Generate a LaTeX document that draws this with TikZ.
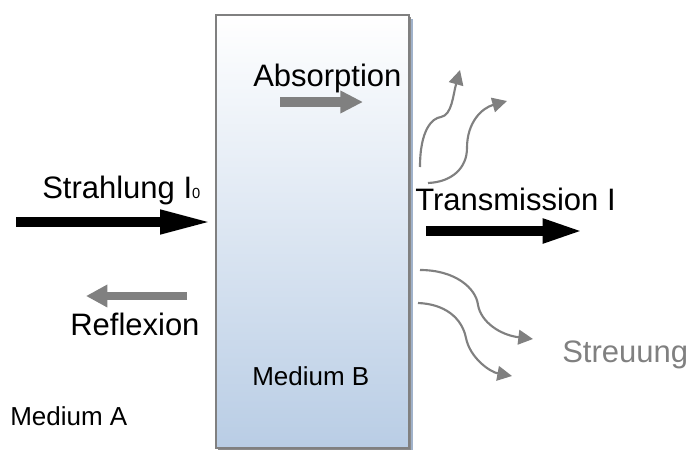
\documentclass[tikz,border=0pt]{standalone}
\usepackage{fontspec}
\setmainfont{Liberation Sans}
\usetikzlibrary{arrows.meta}
\definecolor{boxblue}{RGB}{185,205,229}
\definecolor{edgegray}{RGB}{128,128,128}
\definecolor{shadowgray}{RGB}{138,138,138}
\definecolor{shadowblue}{RGB}{160,178,202}
\definecolor{arrowgray}{RGB}{128,128,128}
\tikzset{
  biglabel/.style={anchor=base west, inner sep=0pt, font=\fontsize{23.25pt}{26pt}\selectfont},
  smalllabel/.style={anchor=base west, inner sep=0pt, font=\fontsize{19.5pt}{22pt}\selectfont},
  blackarrow/.style={draw=black, line width=7.5pt, line cap=butt},
  grayarrow/.style={draw=arrowgray, line width=7pt, line cap=butt},
  scatter/.style={draw=arrowgray, line width=1.6pt,
    -{Triangle[length=11pt, width=11pt]}},
}
\begin{document}
\begin{tikzpicture}[x=0.75pt, y=-0.75pt]
  \useasboundingbox (0,0) rectangle (690,450);

  % medium B: shadow, gradient block, border
  \fill[shadowblue] (220,19) rectangle (413,452);
  \fill[shadowgray] (218,17) rectangle (411,450);
  \node[draw=edgegray, line width=1.5pt, top color=white, bottom color=boxblue,
        minimum width=144.75pt, minimum height=324.75pt, inner sep=0pt]
        (medium) at (312.5,231.5) {};

  % labels
  \node[biglabel] (absorb) at (253,86) {Absorption};
  \node[biglabel] (strahl) at (42,198) {Strahlung I{\fontsize{11pt}{11pt}\selectfont 0}};
  \node[biglabel] (trans) at (415,210) {Transmission I};
  \node[biglabel] (refl) at (70,335) {Reflexion};
  \node[biglabel, text=arrowgray] (streu) at (562,362) {Streuung};
  \node[smalllabel] (medb) at (252,385) {Medium B};
  \node[smalllabel] (meda) at (10,425) {Medium A};

  % arrow end points
  \coordinate (inS) at (16,222);
  \coordinate (inE) at (213,222);
  \coordinate (trS) at (426,231);
  \coordinate (trE) at (584,231);
  \coordinate (abS) at (280,102);
  \coordinate (abE) at (363,102);
  \coordinate (reS) at (187,296);
  \coordinate (reE) at (86,296);

  % straight block arrows
  \draw[blackarrow, -{Triangle[length=39.75pt, width=16.5pt]}] (inS) -- (inE);
  \draw[blackarrow, -{Triangle[length=31pt, width=16.5pt]}] (trS) -- (trE);
  \draw[grayarrow, line width=8pt, -{Triangle[length=17pt, width=16pt]}] (abS) -- (abE);
  \draw[grayarrow, line width=6pt, -{Triangle[length=16pt, width=16pt]}] (reS) -- (reE);

  % scattered rays
  \coordinate (s1a) at (420,167);
  \coordinate (s1m) at (441,117);
  \coordinate (s1b) at (460,70);
  \coordinate (s2a) at (428,183);
  \coordinate (s2m) at (467,148);
  \coordinate (s2b) at (507,101);
  \coordinate (s3a) at (420,270);
  \coordinate (s3m) at (478,305);
  \coordinate (s3b) at (533,339);
  \coordinate (s4a) at (418,303);
  \coordinate (s4m) at (466,338);
  \coordinate (s4b) at (512,376);
  \draw[scatter] (s1a) .. controls (420,130) and (432,118) .. (s1m)
                       .. controls (452,115) and (453,95) .. (s1b);
  \draw[scatter] (s2a) .. controls (452,182) and (467,168) .. (s2m)
                       .. controls (467,122) and (482,108) .. (s2b);
  \draw[scatter] (s3a) .. controls (455,270) and (476,288) .. (s3m)
                       .. controls (481,322) and (500,335) .. (s3b);
  \draw[scatter] (s4a) .. controls (445,304) and (462,318) .. (s4m)
                       .. controls (470,358) and (490,372) .. (s4b);
\end{tikzpicture}
\end{document}
